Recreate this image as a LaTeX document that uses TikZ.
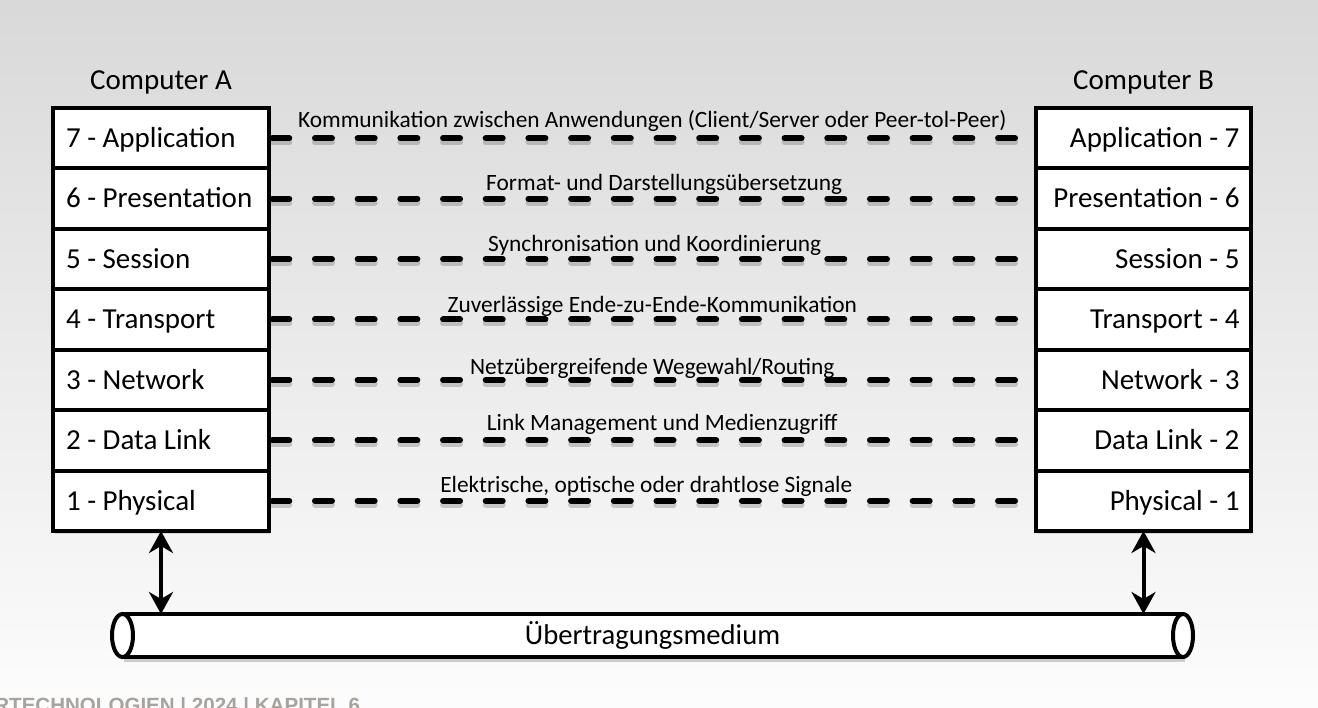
\documentclass[tikz,border=0pt]{standalone}
\usepackage{fontspec}
\setmainfont{Carlito}
\newfontfamily\footfont{Liberation Sans}
\usetikzlibrary{positioning,arrows.meta,shadows}

\definecolor{footgray}{RGB}{168,163,158}

\tikzset{
  layer/.style={draw, fill=white, line width=0.08cm, outer sep=0pt,
    minimum height=1.2086cm, minimum width=4.32cm, inner sep=0pt,
    drop shadow={shadow xshift=0.03cm, shadow yshift=-0.07cm, opacity=0.25}},
  layertext/.style={inner sep=0pt, outer sep=0pt, text height=10.6pt, text depth=0pt,
    font=\fontsize{16.5}{19}\selectfont},
  lefttext/.style={layertext, anchor=west, xshift=0.26cm},
  righttext/.style={layertext, anchor=east, xshift=-0.24cm},
  title/.style={inner sep=0pt, outer sep=0pt, text height=10.6pt, text depth=0pt,
    font=\fontsize{16.5}{19}\selectfont},
  link/.style={line width=0.12cm, line cap=round,
    dash pattern=on 0.34cm off 0.514cm, dash phase=0.788cm,
    preaction={draw=black, opacity=0.18, line width=0.12cm, line cap=round,
      dash pattern=on 0.34cm off 0.514cm, dash phase=0.788cm,
      transform canvas={yshift=-0.08cm}}},
  linklabel/.style={midway, anchor=base, yshift=0.16cm, inner sep=0pt,
    font=\fontsize{13.3}{16}\selectfont},
  tube/.style={line width=0.08cm},
  updown/.style={{Stealth[length=0.44cm,width=0.48cm,inset=0.14cm]}-{Stealth[length=0.44cm,width=0.48cm,inset=0.14cm]},
    line width=0.08cm}
}

\begin{document}
\begin{tikzpicture}[x=0.02cm,y=-0.02cm]

  \path[use as bounding box, clip] (0,0) rectangle (1318,707);
  \shade[top color=black!15, bottom color=black!1] (0,0) rectangle (1318,707);

  % the two stacks
  \foreach \i/\name in {7/Application,6/Presentation,5/Session,4/Transport,3/Network,2/Data Link,1/Physical}{
    \node[layer, label={[lefttext]west:\i{} - \name}] (a\i) at (161, {138.2+60.43*(7-\i)}) {};
    \node[layer, label={[righttext]east:\name{} - \i}] (b\i) at (1143.5, {138.2+60.43*(7-\i)}) {};
  }

  \node[title, above=0.37cm of a7] (compA) {Computer A};
  \node[title, above=0.37cm of b7] (compB) {Computer B};

  % peer protocols
  \draw[link] (a7) -- (b7) node[linklabel, yshift=0.05cm] {Kommunikation zwischen Anwendungen (Client/Server oder Peer-tol-Peer)};
  \draw[link] (a6) -- (b6) node[linklabel, xshift=0.24cm] {Format- und Darstellungsübersetzung};
  \draw[link] (a5) -- (b5) node[linklabel, xshift=0.05cm] {Synchronisation und Koordinierung};
  \draw[link] (a4) -- (b4) node[linklabel, yshift=-0.03cm] {Zuverlässige Ende-zu-Ende-Kommunikation};
  \draw[link] (a3) -- (b3) node[linklabel, yshift=-0.06cm] {Netzübergreifende Wegewahl/Routing};
  \draw[link] (a2) -- (b2) node[linklabel, xshift=0.2cm, yshift=0.04cm] {Link Management und Medienzugriff};
  \draw[link] (a1) -- (b1) node[linklabel, xshift=-0.12cm] {Elektrische, optische oder drahtlose Signale};

  % medium
  \fill[black, opacity=0.18] (124,618) rectangle (1185,662);
  \fill[white] (122,614) rectangle (1183,657);
  \draw[tube] (122,614) -- (1183,614) (122,657) -- (1183,657);
  \draw[tube, fill=white] (122.5,635.5) ellipse [x radius=10.5, y radius=21.5];
  \draw[tube, fill=white] (1183,635.5) ellipse [x radius=10, y radius=21.5];
  \node[minimum width=21.2cm, minimum height=0.86cm, inner sep=0pt, outer sep=0pt,
    text height=10.5pt, text depth=0pt, font=\fontsize{16.3}{19}\selectfont]
    (medium) at (652.5,635.5) {Übertragungsmedium};

  \draw[updown] (a1.south) -- (a1.south |- medium.north);
  \draw[updown] (b1.south) -- (b1.south |- medium.north);

  \node[anchor=base west, inner sep=0pt, text=footgray,
    font=\footfont\bfseries\fontsize{11.7}{14}\selectfont]
    (footer) at (-6,712.7) {RTECHNOLOGIEN | 2024 | KAPITEL 6};
\end{tikzpicture}
\end{document}
